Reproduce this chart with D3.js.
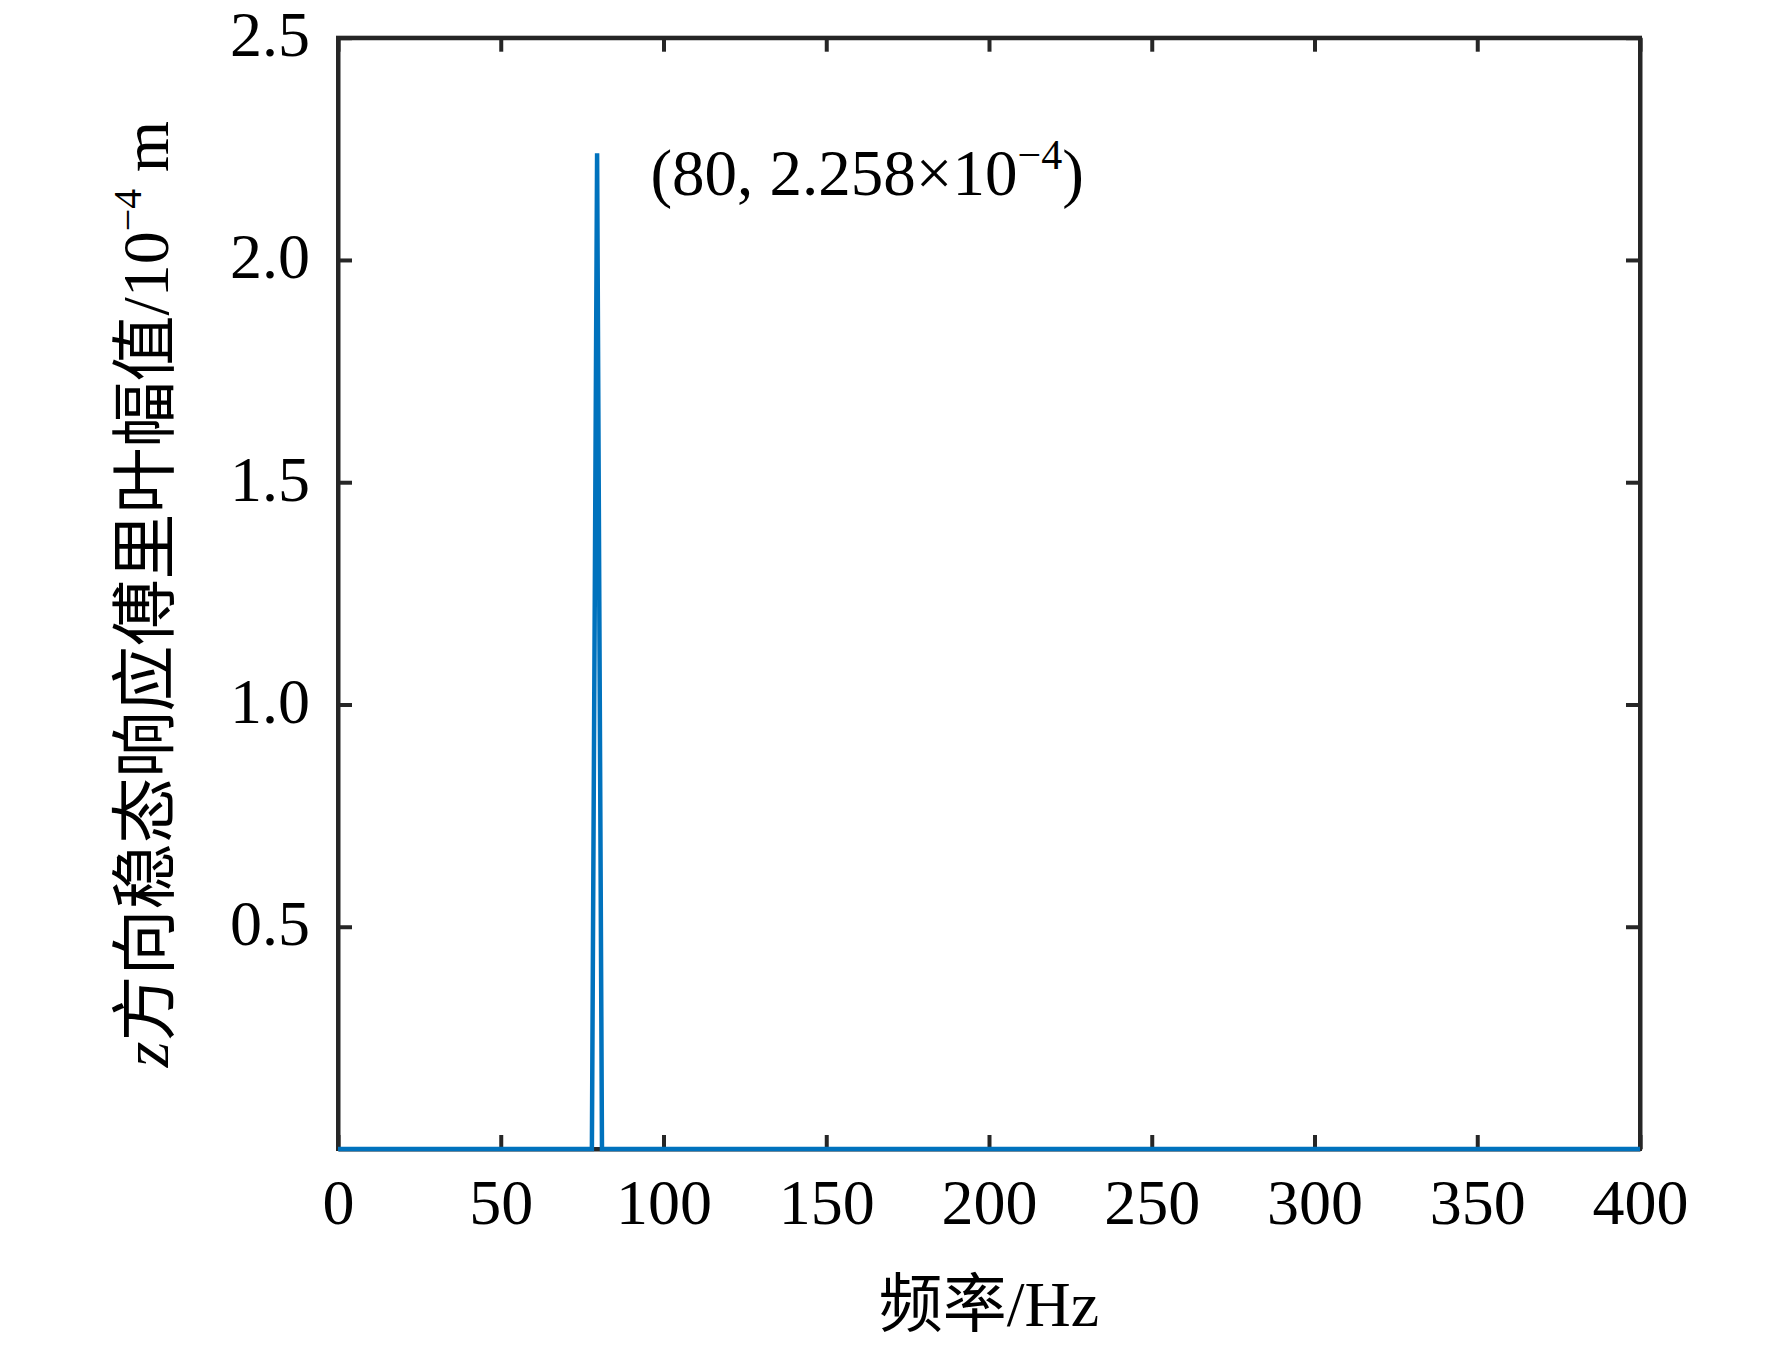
<!DOCTYPE html>
<html><head><meta charset="utf-8">
<script src="https://cdn.jsdelivr.net/npm/d3@7"></script>
<style>body{margin:0;background:#fff}svg{display:block}</style>
</head><body>
<script>
// data
const freq = [0, 78.0, 79.6, 81.1, 400];
const amp  = [0, 0, 2.24, 0, 0];
const xTicks = [0, 50, 100, 150, 200, 250, 300, 350, 400];
const yTicks = [0.5, 1.0, 1.5, 2.0, 2.5];
const annot = {x: 80, y: 2.258};

const W = 1772, H = 1347;
const L = 338, R = 1640, T = 37.7, B = 1149;
const svg = d3.select("body").append("svg").attr("width", W).attr("height", H);
const x = d3.scaleLinear().domain([0, 400]).range([L, R]);
const y = d3.scaleLinear().domain([0, 2.5]).range([B, T]);
const serif = "'Liberation Serif','Times New Roman',serif";
const cjk = "'Noto Sans CJK SC',sans-serif";
const axCol = "#262626";

// axes box and ticks
const tl = 14;
const gB = svg.append("g").attr("transform", `translate(0,${B})`)
  .call(d3.axisBottom(x).tickValues(xTicks).tickSizeInner(-tl).tickSizeOuter(0).tickPadding(30));
const gT = svg.append("g").attr("transform", `translate(0,${T})`)
  .call(d3.axisTop(x).tickValues(xTicks).tickSizeInner(-tl).tickSizeOuter(0).tickFormat(""));
const gL = svg.append("g").attr("transform", `translate(${L},0)`)
  .call(d3.axisLeft(y).tickValues(yTicks).tickSizeInner(-tl).tickSizeOuter(0).tickPadding(28).tickFormat(d3.format(".1f")));
const gR = svg.append("g").attr("transform", `translate(${R},0)`)
  .call(d3.axisRight(y).tickValues(yTicks).tickSizeInner(-tl).tickSizeOuter(0).tickFormat(""));
[gB, gT, gL, gR].forEach(g => {
  g.select(".domain").attr("stroke", axCol).attr("stroke-width", 4);
  g.selectAll(".tick line").attr("stroke", axCol).attr("stroke-width", 4);
  g.selectAll("text").attr("fill", "#000").style("font-family", serif).style("font-size", "64px");
});
gB.selectAll(".tick text").attr("dy", "0.71em").attr("y", 30);
gL.selectAll(".tick text").attr("dy", "0.28em");
// close corners
svg.append("rect").attr("x", L).attr("y", T).attr("width", R - L).attr("height", B - T)
  .attr("fill", "none").attr("stroke", axCol).attr("stroke-width", 4);

// data line
const pts = freq.map((f, i) => [f, amp[i]]);
svg.append("path").datum(pts)
  .attr("d", d3.line().x(d => x(d[0])).y(d => y(d[1])))
  .attr("fill", "none").attr("stroke", "#0072BD").attr("stroke-width", 4.5)
  .attr("stroke-linejoin", "miter");

// annotation
const at = svg.append("text").attr("x", x(annot.x) + 52).attr("y", 195)
  .style("font-family", serif).style("font-size", "65px").attr("fill", "#000");
at.append("tspan").text(`(${annot.x}, ${annot.y}×10`);
at.append("tspan").attr("dy", -26).style("font-size", "42px").text("−4");
at.append("tspan").attr("dy", 26).text(")");

// x label
const xl = svg.append("text").attr("x", x(200) + 0).attr("y", 1326).attr("text-anchor", "middle")
  .style("font-size", "64px").attr("fill", "#000");
xl.append("tspan").style("font-family", cjk).text("频率");
xl.append("tspan").style("font-family", serif).text("/Hz");

// y label
const yl = svg.append("text").attr("transform", "translate(168,594) rotate(-90)").attr("text-anchor", "middle")
  .style("font-size", "66px").attr("fill", "#000");
yl.append("tspan").style("font-family", serif).style("font-style", "italic").text("z");
yl.append("tspan").style("font-family", cjk).text("方向稳态响应傅里叶幅值");
yl.append("tspan").style("font-family", serif).text("/10");
yl.append("tspan").style("font-family", serif).style("font-size", "40px").attr("dy", -27).text("−4");
yl.append("tspan").style("font-family", serif).attr("dy", 27).text(" m");
</script>
</body></html>
